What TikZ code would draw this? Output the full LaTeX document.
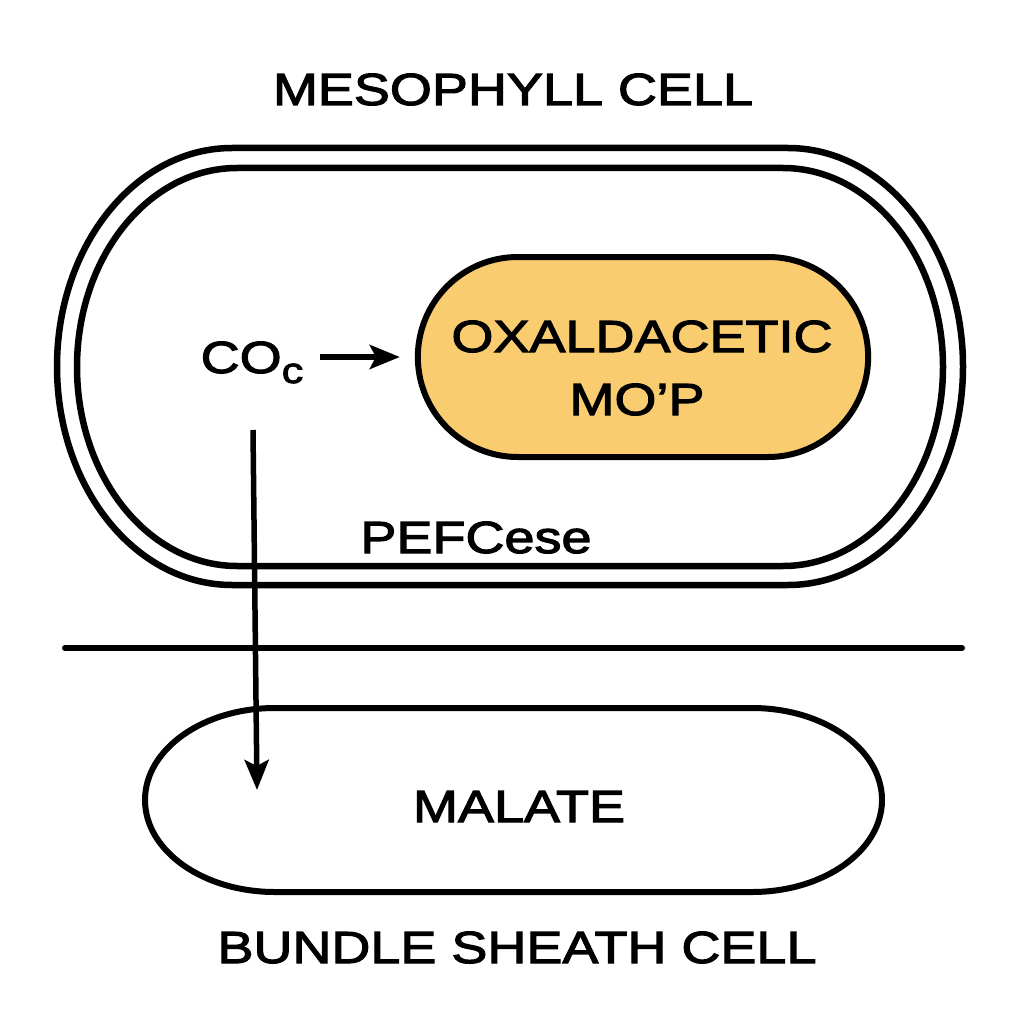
\documentclass[tikz,border=0pt]{standalone}
\usepackage{fontspec}
\setmainfont[FakeStretch=1.2,FakeBold=2.5]{Liberation Sans}
\usepackage{xcolor}
\usetikzlibrary{arrows.meta,shapes.misc}
\definecolor{oxafill}{RGB}{250,204,112}

\begin{document}
\begin{tikzpicture}[x=1pt,y=1pt,
    wall/.style={line width=6.5pt},
    lbl/.style={inner sep=0pt,anchor=base,font=\fontsize{45}{54}\selectfont},
    flow/.style={line width=5.5pt,-{Stealth[length=30pt,width=24pt,inset=6pt]}}]
  \useasboundingbox (0,0) rectangle (1024,-1024);
  % mesophyll cell, double wall
  \draw[wall] (232,-148) -- (788,-148) arc[start angle=90,end angle=-90,x radius=175,y radius=218.5]
    -- (232,-585) arc[start angle=270,end angle=90,x radius=175,y radius=218.5] -- cycle;
  \draw[wall] (237,-168) -- (783,-168) arc[start angle=90,end angle=-90,x radius=160,y radius=199]
    -- (237,-566) arc[start angle=270,end angle=90,x radius=160,y radius=199] -- cycle;
  \node[lbl] (meso) at (513,-105) {MESOPHYLL CELL};
  \node[rounded rectangle,draw,line width=6pt,fill=oxafill,minimum width=457pt,minimum height=200pt] (oxa) at (643,-357) {};
  \node[lbl] (oxatop) at (642,-352) {OXALDACETIC};
  \node[lbl] (oxabot) at (637,-415) {MO'P};
  \node[lbl] (co) at (252,-373) {CO\raisebox{-10pt}{\fontsize{36}{40}\selectfont c}};
  \node[lbl] (pep) at (476,-553) {PEFCese};
  \draw[flow,shorten <=16pt,shorten >=15pt] (co.east |- oxa.west) -- (oxa.west);
  % border between the cells
  \coordinate (sepl) at (65,-648);
  \coordinate (sepr) at (962,-648);
  \draw[line width=6pt,line cap=round] (sepl) -- (sepr);
  % bundle sheath cell
  \draw[line width=6pt] (275,-708) -- (752,-708) arc[start angle=90,end angle=-90,x radius=130,y radius=92]
    -- (275,-892) arc[start angle=270,end angle=90,x radius=130,y radius=92] -- cycle;
  \node[lbl] (malate) at (519,-822) {MALATE};
  \node[lbl] (bundle) at (517,-963) {BUNDLE SHEATH CELL};
  \coordinate (down1) at (253,-430);
  \coordinate (down2) at (257,-790);
  \draw[flow] (down1) -- (down2);
\end{tikzpicture}
\end{document}
